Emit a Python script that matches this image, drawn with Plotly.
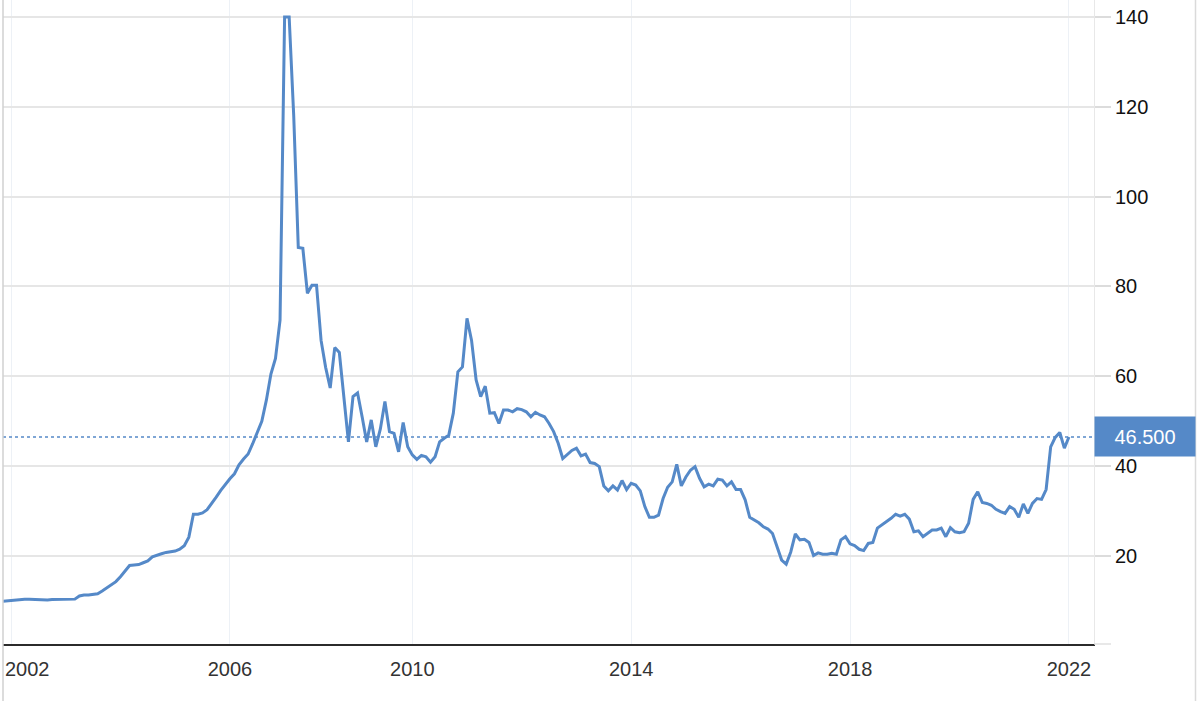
import pandas as pd
import plotly.graph_objects as go

# ---- data (monthly points; a few months absent in 2007-2009) ----
first_month = "2001-11"
last_month = "2022-01"
missing_months = ["2007-01", "2007-02", "2007-03", "2007-04", "2007-05",
                  "2009-02", "2009-05", "2009-08"]

prices_2001 = [9.9, 10.0]
prices_2002 = [10.2, 10.3, 10.35, 10.35, 10.35, 10.3, 10.3, 10.25, 10.2, 10.3, 10.35, 10.4]
prices_2003 = [10.4, 10.4, 10.4, 11.1, 11.3, 11.3, 11.4, 11.6, 12.2, 12.9, 13.7, 14.3]
prices_2004 = [15.4, 16.6, 17.9, 18.0, 18.1, 18.5, 18.9, 19.8, 20.2, 20.5, 20.8, 20.9]
prices_2005 = [21.1, 21.5, 22.3, 24.2, 29.3, 29.3, 29.6, 30.3, 31.6, 33.1, 34.6, 36.0]
prices_2006 = [37.2, 38.3, 40.3, 41.6, 42.7, 45.0, 47.4, 50.0, 54.7, 60.5, 64.0, 72.5]
prices_2007 = [140.0, 140.0, 118.0, 88.7, 88.5, 78.5, 80.3]
prices_2008 = [80.3, 68.0, 62.0, 57.4, 66.4, 65.3, 55.5, 45.4, 55.5, 56.3, 51.0, 45.4]
prices_2009 = [50.3, 44.3, 48.3, 54.4, 47.7, 47.3, 43.2, 49.7, 44.3]
prices_2010 = [42.5, 41.5, 42.4, 42.1, 40.9, 42.1, 45.4, 46.2, 46.9, 51.8, 61.0, 62.1]
prices_2011 = [72.9, 68.0, 59.2, 55.5, 57.8, 51.8, 51.9, 49.5, 52.5, 52.5, 52.1, 52.8]
prices_2012 = [52.6, 52.1, 51.0, 52.0, 51.4, 51.0, 49.5, 47.7, 45.1, 41.7, 42.5, 43.5]
prices_2013 = [44.0, 42.3, 42.7, 40.8, 40.6, 39.9, 35.6, 34.5, 35.6, 34.7, 36.8, 34.8]
prices_2014 = [36.2, 35.8, 34.5, 31.0, 28.6, 28.6, 29.1, 32.8, 35.3, 36.5, 40.4, 35.6]
prices_2015 = [37.6, 39.1, 39.9, 37.3, 35.4, 36.0, 35.6, 37.1, 36.9, 35.6, 36.5, 34.8]
prices_2016 = [34.8, 32.5, 28.6, 28.0, 27.4, 26.5, 26.0, 25.0, 22.1, 19.1, 18.2, 20.9]
prices_2017 = [24.9, 23.6, 23.7, 23.0, 20.1, 20.7, 20.4, 20.4, 20.6, 20.4, 23.6, 24.3]
prices_2018 = [22.7, 22.3, 21.5, 21.2, 22.8, 23.0, 26.2, 26.9, 27.8, 28.4, 29.3, 28.9]
prices_2019 = [29.3, 28.2, 25.4, 25.6, 24.3, 25.0, 25.8, 25.8, 26.2, 24.3, 26.3, 25.4]
prices_2020 = [25.2, 25.4, 27.3, 32.6, 34.3, 31.9, 31.7, 31.3, 30.4, 29.9, 29.5, 31.0]
prices_2021 = [30.4, 28.6, 31.6, 29.5, 31.7, 32.8, 32.6, 34.8, 44.3, 46.4, 47.5, 44.0]
prices_2022 = [46.5]

tick_months = ["2002-01", "2006-01", "2010-01", "2014-01", "2018-01", "2022-01"]
tick_labels = ["2002", "2006", "2010", "2014", "2018", "2022"]
y_ticks = [20, 40, 60, 80, 100, 120, 140]

# ---- build the series ----
months = [p.strftime("%Y-%m") for p in pd.period_range(first_month, last_month, freq="M")]
months = [m for m in months if m not in missing_months]
prices = (prices_2001 + prices_2002 + prices_2003 + prices_2004 + prices_2005 + prices_2006
          + prices_2007 + prices_2008 + prices_2009 + prices_2010 + prices_2011 + prices_2012
          + prices_2013 + prices_2014 + prices_2015 + prices_2016 + prices_2017 + prices_2018
          + prices_2019 + prices_2020 + prices_2021 + prices_2022)
assert len(months) == len(prices), (len(months), len(prices))

blue = "#5589c8"
W, H = 1200, 701
L, R, T, B = 3, 106, 0, 57
pw = W - L - R
ph = H - T - B

fig = go.Figure()
fig.add_trace(go.Scatter(x=months, y=prices, mode="lines",
                         line=dict(color=blue, width=3), hoverinfo="skip"))

i0 = months.index("2002-01")
fig.update_layout(
    width=W, height=H,
    margin=dict(l=L, r=R, t=T, b=B, autoexpand=False),
    paper_bgcolor="white", plot_bgcolor="white",
    showlegend=False,
    font=dict(family="Liberation Sans, Arial, sans-serif"),
    xaxis=dict(
        type="category",
        range=[i0 - 1.754, i0 + 237.5],
        tickmode="array",
        tickvals=tick_months,
        ticktext=[""] + tick_labels[1:],
        showgrid=True, gridcolor="#edf1f6", gridwidth=1,
        showline=True, linecolor="#2b2b2b", linewidth=2,
        ticks="", tickfont=dict(size=20, color="#333333"),
        ticklabelstandoff=6,
        fixedrange=True,
    ),
    yaxis=dict(
        side="right",
        range=[0.41, 143.78],
        tickmode="array", tickvals=y_ticks,
        showgrid=True, gridcolor="#e6e6e6", gridwidth=1.5,
        zeroline=False,
        showline=True, linecolor="#e8e8e8", linewidth=1,
        ticks="outside", ticklen=16, tickcolor="#dcdcdc", tickwidth=1.5,
        tickfont=dict(size=20, color="#111111"),
        fixedrange=True,
    ),
)

# dotted reference line at the last value
last_val = prices[-1]
fig.add_shape(type="line", xref="paper", yref="y", x0=0, x1=1, y0=last_val, y1=last_val,
              line=dict(color=blue, width=1.5, dash="dot"))

# last value badge on the right axis
fig.add_annotation(xref="paper", yref="y", x=(1145 - L) / pw, y=last_val,
                   xanchor="center", yanchor="middle",
                   text=f"{last_val:.3f}", showarrow=False,
                   bgcolor=blue, width=100, height=39, borderpad=0,
                   font=dict(size=20, color="white"))

# first year label, kept inside the left edge
fig.add_annotation(xref="paper", yref="paper", x=0, y=-(668.5 - 644) / ph,
                   xanchor="left", yanchor="middle", text=tick_labels[0], showarrow=False,
                   font=dict(size=20, color="#333333"))

# container borders and the small axis stub
fig.add_shape(type="line", xref="paper", yref="paper", x0=0, x1=0, y0=-B / ph, y1=1,
              line=dict(color="#d0d0d0", width=1.5))
fig.add_shape(type="line", xref="paper", yref="paper",
              x0=(1195.5 - L) / pw, x1=(1195.5 - L) / pw, y0=-B / ph, y1=1,
              line=dict(color="#dadada", width=1.5))
fig.add_shape(type="line", xref="paper", yref="paper",
              x0=1, x1=(1111 - L) / pw, y0=0, y1=0,
              line=dict(color="#e0e0e0", width=1.5))

fig.write_html("out.html", config={"displayModeBar": False},
               post_script="document.body.style.margin='0';")
